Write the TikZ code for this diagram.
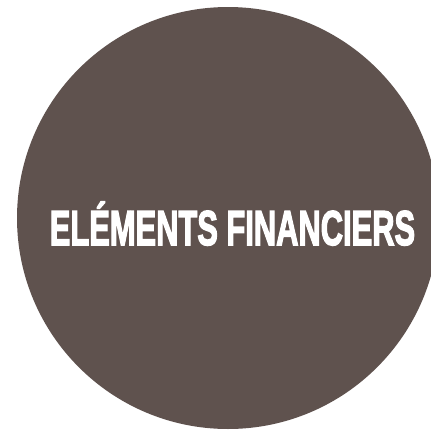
\documentclass[tikz,border=0pt]{standalone}
\usepackage{fontspec}
\newfontfamily\heavyfont[BoldFont={Liberation Sans Bold},BoldFeatures={FakeBold=3.2}]{Liberation Sans}
\definecolor{disc}{HTML}{5F524E}
\begin{document}
\begin{tikzpicture}[x=1pt,y=-1pt,
  discstyle/.style={circle,fill=disc,inner sep=0pt,minimum size=422pt},
  labelstyle/.style={text=white,inner sep=0pt,anchor=base,font=\heavyfont\fontsize{49}{49}\bfseries\selectfont}]
\useasboundingbox (0,0) rectangle (431,431);
\node[discstyle] (c) at (228,218) {};
\node[labelstyle,xscale=0.63,yscale=1.0] (t) at (232.5,245) {ELÉMENTS FINANCIERS};
\end{tikzpicture}
\end{document}
